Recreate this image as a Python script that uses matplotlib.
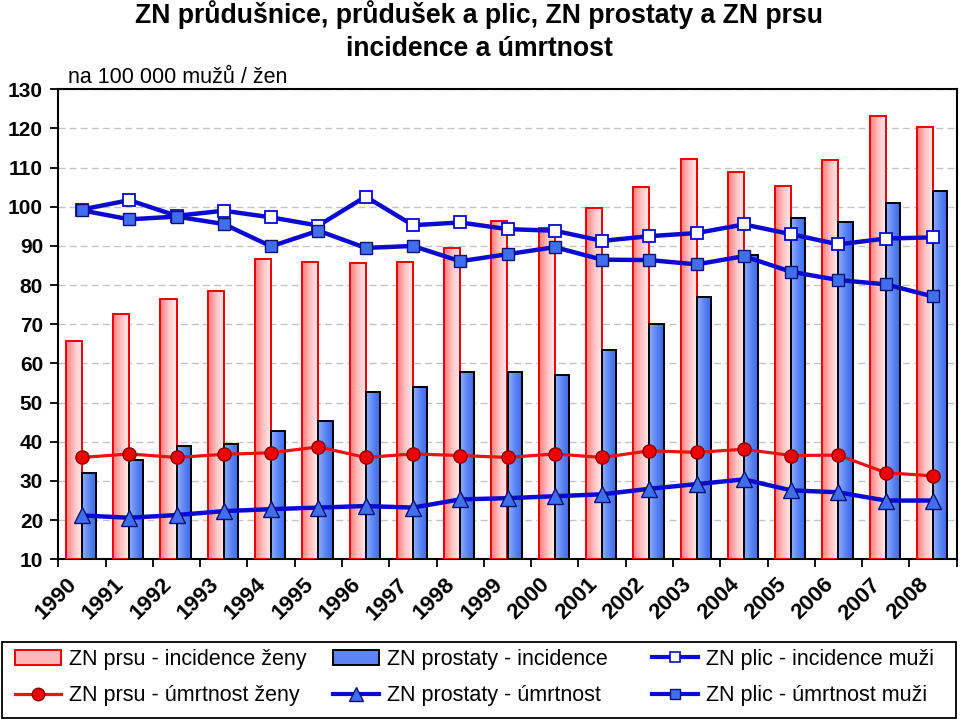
import numpy as np
import matplotlib
matplotlib.use("Agg")
import matplotlib.pyplot as plt
from matplotlib.transforms import ScaledTranslation
from matplotlib.lines import Line2D
from matplotlib.patches import Rectangle
from matplotlib.colors import LinearSegmentedColormap

plt.rcParams['font.family'] = ['Liberation Sans', 'DejaVu Sans']

years = [str(y) for y in range(1990, 2009)]
prsu_incidence = [65.7, 72.6, 76.5, 78.6, 86.8, 85.9, 85.6, 85.9, 89.4, 96.4,
                  94.7, 99.8, 105.0, 112.3, 108.9, 105.3, 111.9, 123.1, 120.5]
prostaty_incidence = [32.0, 35.4, 38.9, 39.4, 42.8, 45.2, 52.6, 53.9, 57.8, 57.8,
                      57.1, 63.5, 70.1, 76.9, 87.6, 97.1, 96.2, 101.0, 104.1]
plic_incidence = [99.3, 101.7, 97.7, 99.0, 97.3, 95.2, 102.6, 95.3, 96.0, 94.3,
                  93.9, 91.3, 92.5, 93.3, 95.5, 93.0, 90.4, 91.9, 92.2]
prsu_umrtnost = [36.0, 36.9, 36.0, 36.8, 37.2, 38.7, 36.0, 36.9, 36.5, 36.0,
                 36.9, 36.0, 37.7, 37.3, 38.1, 36.5, 36.6, 32.1, 31.3]
prostaty_umrtnost = [21.2, 20.6, 21.3, 22.3, 22.8, 23.2, 23.6, 23.2, 25.3, 25.6,
                     26.1, 26.6, 28.0, 29.2, 30.4, 27.6, 27.1, 25.0, 25.0]
plic_umrtnost = [99.1, 96.8, 97.5, 95.6, 89.9, 93.9, 89.5, 90.0, 86.1, 87.9,
                 89.7, 86.5, 86.4, 85.3, 87.4, 83.4, 81.3, 80.2, 77.1]

labels = ["ZN prsu - incidence ženy", "ZN prostaty - incidence", "ZN plic - incidence muži",
          "ZN prsu - úmrtnost ženy", "ZN prostaty - úmrtnost", "ZN plic - úmrtnost muži"]

fig = plt.figure(figsize=(9.6, 7.2), dpi=100)
ax = fig.add_axes([58.3/960, 1-559.3/720, (956.7-58.3)/960, (559.3-89.3)/720])

x = np.arange(len(years))
ymin, ymax = 10, 130

red_cmap = LinearSegmentedColormap.from_list("r", ["#ff7c7c", "#ffc4c4", "#fff0f0"])
blue_cmap = LinearSegmentedColormap.from_list("b", ["#8fb0ff", "#5b84f5", "#3a66e6"])
grad = np.linspace(0, 1, 64).reshape(1, -1)

w_red, w_blue = 0.34, 0.30
bars_r = ax.bar(x - w_red/2, np.array(prsu_incidence) - ymin, width=w_red, bottom=ymin,
                facecolor="none", edgecolor="#ee0000", linewidth=1.4, zorder=3)
bars_b = ax.bar(x + w_blue/2, np.array(prostaty_incidence) - ymin, width=w_blue, bottom=ymin,
                facecolor="none", edgecolor="#000000", linewidth=1.4, zorder=3.2)
for bars, cmap, z in ((bars_r, red_cmap, 2.9), (bars_b, blue_cmap, 3.1)):
    for b in bars:
        x0, y0 = b.get_x(), b.get_y()
        im = ax.imshow(grad, cmap=cmap, aspect="auto", extent=(x0, x0 + b.get_width(), y0, y0 + b.get_height()),
                       zorder=z, interpolation="bilinear")
        clip = Rectangle((x0, y0), b.get_width(), b.get_height(), transform=ax.transData)
        im.set_clip_path(clip)

ax.plot(x, plic_incidence, color="#0a0ad0", lw=3.2, marker="s", ms=8, mfc="white",
        mec="#0a0ad0", mew=1.3, zorder=5)
ax.plot(x, plic_umrtnost, color="#0a0ad0", lw=3.2, marker="s", ms=8, mfc="#3f6fef",
        mec="#101070", mew=1.0, zorder=5.1)
ax.plot(x, prsu_umrtnost, color="#ee1111", lw=2.3, marker="o", ms=9.5, mfc="#ee0000",
        mec="#880000", mew=1.0, zorder=5.2)
ax.plot(x, prostaty_umrtnost, color="#0a0ad0", lw=3.2, marker="^", ms=11, mfc="#3f6fef",
        mec="#101070", mew=1.0, zorder=5.3)

ax.set_xlim(-0.5, len(years) - 0.5)
ax.set_ylim(ymin, ymax)
ax.set_yticks(np.arange(10, 131, 10))
ax.yaxis.grid(True, color="#c4c4c4", linestyle=(0, (5, 3)), linewidth=1.0)
ax.set_axisbelow(True)
for s in ax.spines.values():
    s.set_color("black")
    s.set_linewidth(1.5)
ax.tick_params(axis="y", direction="out", length=6, width=1.3, pad=5, labelsize=15)
for t in ax.get_yticklabels():
    t.set_fontweight("bold")

ax.set_xticks(x)
ax.set_xticklabels(years, rotation=45, ha="right", va="center", rotation_mode="anchor",
                   fontsize=16, fontweight="bold")
ax.tick_params(axis="x", which="major", length=0, pad=16)
ax.set_xticks(np.arange(-0.5, len(years), 1.0), minor=True)
ax.tick_params(axis="x", which="minor", direction="out", length=6, width=1.3)
off = ScaledTranslation(-8/100, 0, fig.dpi_scale_trans)
for t in ax.get_xticklabels():
    t.set_transform(t.get_transform() + off)

fig.text(479/960, 1-15/720, "ZN průdušnice, průdušek a plic, ZN prostaty a ZN prsu",
         ha="center", va="center", fontsize=19.2, fontweight="bold")
fig.text(479/960, 1-48.5/720, "incidence a úmrtnost", ha="center", va="center",
         fontsize=19.2, fontweight="bold")
fig.text(68/960, 1-83/720, "na 100 000 mužů / žen", ha="left", va="baseline", fontsize=15.5)

handles = [
    Rectangle((0, 0), 1, 1, facecolor="#ffb8b8", edgecolor="#ee0000", linewidth=1.4),
    Rectangle((0, 0), 1, 1, facecolor="#5b84f5", edgecolor="#000000", linewidth=1.4),
    Line2D([], [], color="#0a0ad0", lw=3, marker="s", ms=6.5, mfc="white", mec="#0a0ad0", mew=1.2),
    Line2D([], [], color="#ee1111", lw=2.3, marker="o", ms=9, mfc="#ee0000", mec="#880000"),
    Line2D([], [], color="#0a0ad0", lw=3, marker="^", ms=10, mfc="#3f6fef", mec="#101070"),
    Line2D([], [], color="#0a0ad0", lw=3, marker="s", ms=6.5, mfc="#3f6fef", mec="#101070"),
]
col_x = [15, 333, 652]
for c in range(3):
    idx = [c, c + 3]
    fig.legend([handles[i] for i in idx], [labels[i] for i in idx], loc="upper left",
               bbox_to_anchor=(col_x[c]/960, 1-649/720), frameon=False,
               fontsize=15.5, handlelength=2.15, handletextpad=0.35, labelspacing=0.7,
               borderpad=0, borderaxespad=0)
fig.patches.append(Rectangle((2/960, 2/720), 954/960, 76/720, fill=False,
                             edgecolor="black", linewidth=1.3, transform=fig.transFigure))

fig.savefig("out.png", dpi=100, facecolor="white")
